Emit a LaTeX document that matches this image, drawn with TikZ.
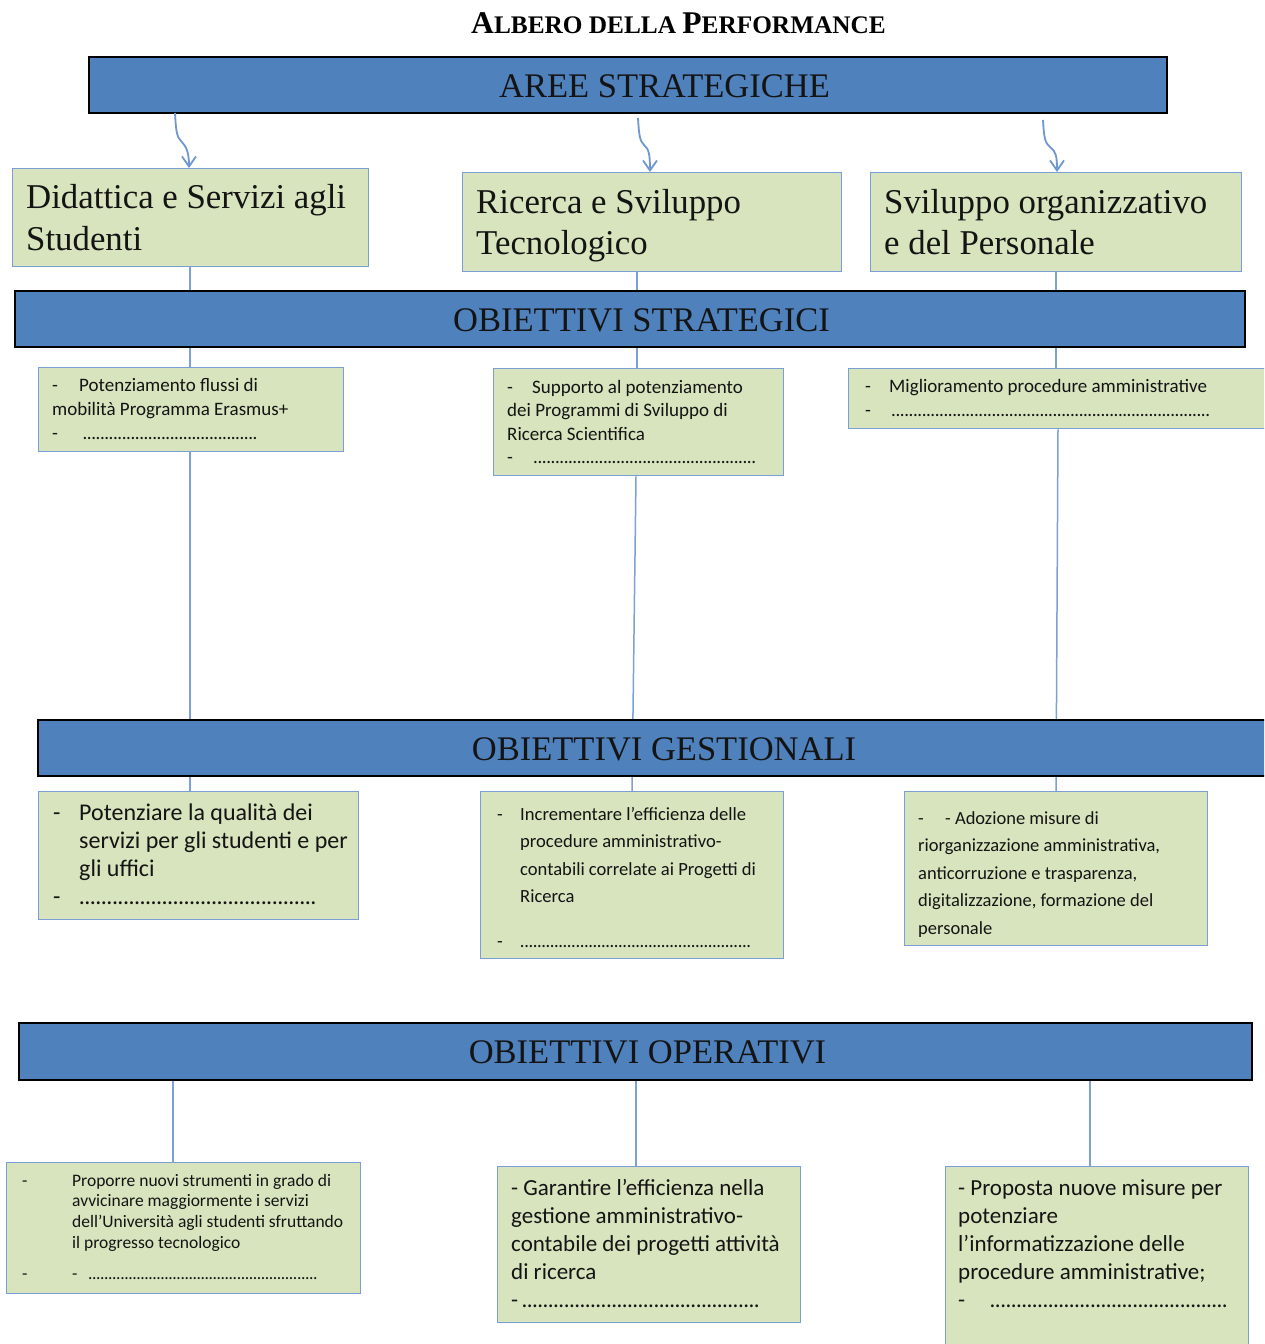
\documentclass[tikz,border=0pt]{standalone}
\usepackage{fontspec}
\setmainfont{Liberation Serif}
\newfontfamily\calib{Carlito}
\usetikzlibrary{arrows.meta}
\pgfdeclarelayer{background}
\pgfsetlayers{background,main}
\definecolor{barblue}{HTML}{4F81BD}
\definecolor{boxgreen}{HTML}{D7E4BD}
\definecolor{boxline}{HTML}{7B9FD4}
\definecolor{linkblue}{HTML}{7BA1D6}
\definecolor{arrowblue}{HTML}{6F97D0}
\definecolor{txtdark}{HTML}{141414}
\newcommand{\dl}[1]{\leavevmode\llap{\makebox[#1pt][l]{-}}}
\newcommand{\dtab}[1]{\leavevmode\makebox[#1pt][l]{-}}
\newcommand{\dotrow}[1]{\leavevmode\leaders\hbox to 0.23em{\hss.\hss}\hskip #1pt\kern0pt\relax}
\newcommand{\tblock}[5]{\vtop{\hsize=#1pt\parindent=0pt\parskip=0pt\leftskip=0pt\rightskip=0pt plus 1fil #2\fontsize{#3pt}{#4pt}\selectfont #5\par}}
\begin{document}
\begin{tikzpicture}[x=1pt,y=-1pt,
  bar/.style={draw=black, line width=1.6pt, fill=barblue, anchor=north west, inner sep=0pt},
  gbox/.style={draw=boxline, line width=1.3pt, fill=boxgreen, anchor=north west, inner sep=0pt},
  bartxt/.style={anchor=base, inner sep=0pt, text=txtdark, font=\fontsize{34.5pt}{40pt}\selectfont},
  txt/.style={anchor=base west, inner sep=0pt, text=txtdark},
  conn/.style={draw=linkblue, line width=1.5pt},
  arr/.style={draw=arrowblue, line width=1.8pt, -{Straight Barb[length=10pt,width=14pt]}}]
\useasboundingbox (0,0) rectangle (1264,1344);
\clip (0,0) rectangle (1264,1344);
\begin{pgfonlayer}{background}
\fill[white] (0,0) rectangle (1264,1344);
\end{pgfonlayer}

% title
\node[anchor=base, inner sep=0pt, text=black] (title) at (678.5,33)
  {\bfseries\fontsize{25.3pt}{30pt}\selectfont{\fontsize{31.6pt}{32pt}\selectfont A}LBERO DELLA {\fontsize{31.6pt}{32pt}\selectfont P}ERFORMANCE};

% bars
\node[bar, minimum width=1078pt, minimum height=56pt] (aree) at (88,56) {};
\node[bartxt] (areeT) at (664.5,97) {AREE STRATEGICHE};
\node[bar, minimum width=1230pt, minimum height=56pt] (strat) at (14,290) {};
\node[bartxt] (stratT) at (641.5,331) {OBIETTIVI STRATEGICI};
\node[bar, minimum width=1250pt, minimum height=56pt] (gest) at (37,719) {};
\node[bartxt] (gestT) at (664,760) {OBIETTIVI GESTIONALI};
\node[bar, minimum width=1233pt, minimum height=57pt] (oper) at (18,1022) {};
\node[bartxt] (operT) at (647.5,1063) {OBIETTIVI OPERATIVI};

% level 1 boxes
\node[gbox, minimum width=356pt, minimum height=98pt] (b1) at (12,168) {};
\node[txt] (b1T) at (26,208) {\tblock{340}{}{34.8}{42}{Didattica e Servizi agli\par Studenti}};
\node[gbox, minimum width=379pt, minimum height=99pt] (b2) at (462,172) {};
\node[txt] (b2T) at (476,213) {\tblock{360}{}{34.8}{41}{Ricerca e Sviluppo\par Tecnologico}};
\node[gbox, minimum width=371pt, minimum height=99pt] (b3) at (870,172) {};
\node[txt] (b3T) at (884,213) {\tblock{350}{}{34.8}{41}{Sviluppo organizzativo\par e del Personale}};

% strategic objective boxes
\node[gbox, minimum width=305pt, minimum height=84pt] (s1) at (38,367) {};
\node[txt] (s1T) at (52,391) {\tblock{285}{\calib}{19}{24}{\dtab{27}Potenziamento flussi di\par mobilità Programma Erasmus+\par \dtab{27}\dotrow{181}}};
\node[gbox, minimum width=290pt, minimum height=107pt] (s2) at (493,368) {};
\node[txt] (s2T) at (507,393) {\tblock{270}{\calib}{19}{23.5}{\dtab{25}Supporto al potenziamento\par dei Programmi di Sviluppo di\par Ricerca Scientifica\par \dtab{25}\dotrow{226}}};
\node[gbox, minimum width=427pt, minimum height=60pt] (s3) at (848,368) {};
\node[txt] (s3T) at (865,392) {\tblock{390}{\calib}{19}{24}{\dtab{24}Miglioramento procedure amministrative\par \dtab{24}\dotrow{323}}};

% management objective boxes
\node[gbox, minimum width=320pt, minimum height=128pt] (g1) at (38,791) {};
\node[txt] (g1T) at (79,820) {\tblock{270}{\calib}{24}{28}{\dl{26}Potenziare la qualità dei\par servizi per gli studenti e per\par gli uffici\par \dl{26}\dotrow{238}}};
\node[gbox, minimum width=303pt, minimum height=167pt] (g2) at (480,791) {};
\node[txt] (g2T) at (520,820) {\tblock{255}{\calib}{18.6}{27.5}{\dl{23}Incrementare l’efficienza delle\par procedure amministrativo-\par contabili correlate ai Progetti di\par Ricerca\par\vskip17pt \dl{23}\dotrow{232}}};
\node[gbox, minimum width=303pt, minimum height=154pt] (g3) at (904,791) {};
\node[txt] (g3T) at (918,824) {\tblock{280}{\calib}{18.5}{27.5}{\dtab{27}- Adozione misure di\par riorganizzazione amministrativa,\par anticorruzione e trasparenza,\par digitalizzazione, formazione del\par personale}};

% operational objective boxes
\node[gbox, minimum width=354pt, minimum height=131pt] (o1) at (6,1162) {};
\node[txt] (o1T) at (72,1186) {\tblock{280}{\calib}{17.5}{20.8}{\dl{50}Proporre nuovi strumenti in grado di\par avvicinare maggiormente i servizi\par dell’Università agli studenti sfruttando\par il progresso tecnologico\par\vskip10.7pt \dl{50}-\hspace{7pt}\dotrow{235}}};
\node[gbox, minimum width=303pt, minimum height=156pt] (o2) at (497,1166) {};
\node[txt] (o2T) at (511,1195) {\tblock{285}{\calib}{23}{28}{- Garantire l’efficienza nella\par gestione amministrativo-\par contabile dei progetti attività\par di ricerca\par -\dotrow{244}}};
\node[gbox, minimum width=303pt, minimum height=200pt] (o3) at (945,1166) {};
\node[txt] (o3T) at (958,1195) {\tblock{285}{\calib}{23}{28}{- Proposta nuove misure per\par potenziare\par l’informatizzazione delle\par procedure amministrative;\par \dtab{29}\dotrow{243}}};

% arrows from strategic areas
\coordinate (a1s) at (175,113);
\coordinate (a2s) at (638,118);
\coordinate (a3s) at (1043,120);
\draw[arr] (a1s) .. controls (176,132) and (177,137) .. (181,141) .. controls (186,146) and (189,152) .. ([xshift=177pt]b1.north west);
\draw[arr] (a2s) .. controls (639,136) and (640,141) .. (644,145) .. controls (649,149) and (650,155) .. ([xshift=188pt]b2.north west);
\draw[arr] (a3s) .. controls (1044,138) and (1045,143) .. (1050,147) .. controls (1056,151) and (1057,157) .. ([xshift=187pt]b3.north west);

% connectors
\begin{pgfonlayer}{background}
\draw[conn] ([xshift=178pt]b1.south west) -- ([xshift=152pt]s1.north west);
\draw[conn] ([xshift=152pt]s1.south west) -- ([xshift=152pt]g1.north west);
\draw[conn] ([xshift=175pt]b2.south west) -- ([xshift=144pt]s2.north west);
\draw[conn] ([xshift=143pt]s2.south west) -- ([xshift=152pt]g2.north west);
\draw[conn] ([xshift=186pt]b3.south west) -- ([xshift=208pt]s3.north west);
\draw[conn] ([xshift=210pt]s3.south west) -- ([xshift=152pt]g3.north west);
\draw[conn] ([xshift=155pt]oper.south west) -- ([xshift=167pt]o1.north west);
\draw[conn] ([xshift=618pt]oper.south west) -- ([xshift=139pt]o2.north west);
\draw[conn] ([xshift=1072pt]oper.south west) -- ([xshift=145pt]o3.north west);
\end{pgfonlayer}
\end{tikzpicture}
\end{document}
